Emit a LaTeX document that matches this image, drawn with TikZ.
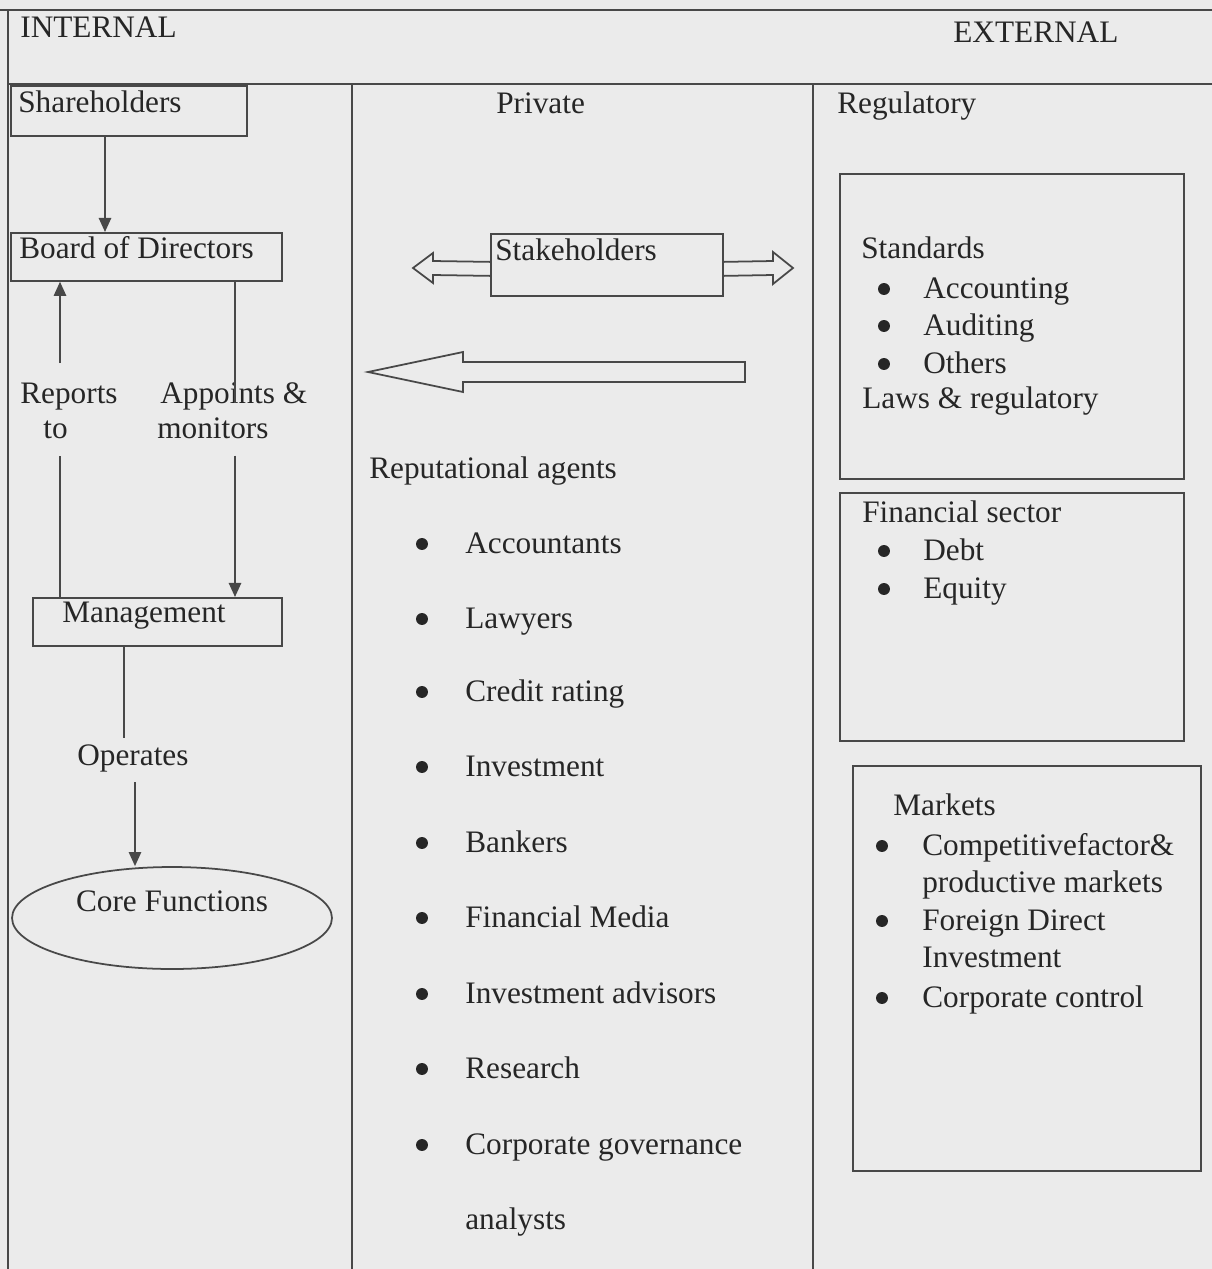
\documentclass[tikz,border=0pt]{standalone}
\usepackage{fontspec}
\setmainfont{Liberation Serif}
\usetikzlibrary{arrows.meta,shapes.geometric,calc}
\definecolor{bg}{HTML}{EBEBEB}
\definecolor{ln}{HTML}{484848}
\definecolor{tx}{HTML}{262626}
\begin{document}
\begin{tikzpicture}[x=0.02cm,y=-0.02cm,
  every node/.style={font=\fontsize{17.8}{21}\selectfont, text=tx, inner sep=0pt},
  lbl/.style={anchor=base west},
  frame/.style={draw=ln, line width=1.1pt},
  box/.style={draw=ln, line width=1pt, anchor=north west},
  conn/.style={draw=ln, line width=1pt},
  arr/.style={conn, -{Triangle[length=8pt,width=7pt]}},
  hollow/.style={draw=ln, line width=1pt, line join=miter},
  bul/.style={fill=tx}
]
\fill[bg] (0,0) rectangle (1212,1269);
\useasboundingbox (0,0) rectangle (1212,1269);

% frame
\draw[frame] (0,10) -- (1212,10);
\draw[frame] (8,84) -- (1212,84);
\draw[frame] (8,10) -- (8,1269);
\draw[frame] (352,84) -- (352,1269);
\draw[frame] (813,84) -- (813,1269);

% headers
\node[lbl] (int) at (20,37) {INTERNAL};
\node[lbl] (ext) at (953,42) {EXTERNAL};
\node[lbl] (priv) at (496,113) {Private};
\node[lbl] (regu) at (837,113) {Regulatory};

% internal column
\node[box, minimum width=4.72cm, minimum height=1.0cm] (sh) at (10,85) {};
\node[lbl] (sh-t) at (18,112) {Shareholders};
\node[box, minimum width=5.42cm, minimum height=0.96cm] (bd) at (10,232) {};
\node[lbl] (bd-t) at (19,258) {Board of Directors};
\node[box, minimum width=4.98cm, minimum height=0.96cm] (mg) at (32,597) {};
\node[lbl] (mg-t) at (62,622) {Management};
\node[ellipse, draw=ln, line width=1pt, minimum width=6.4cm, minimum height=2.04cm,
      text height=12pt, text depth=19pt] (core) at (172,918) {Core Functions};

\node[lbl] (rep-a) at (20,403) {Reports};
\node[lbl] (rep-b) at (43,438) {to};
\node[lbl] (app-a) at (160,403) {Appoints \&};
\node[lbl] (app-b) at (157,438) {monitors};
\node[lbl] (op) at (77,765) {Operates};

\coordinate (c1) at (105,0);
\coordinate (c2) at (60,0);
\coordinate (c3) at (235,0);
\coordinate (c4) at (124,0);
\coordinate (c5) at (135,0);

\draw[arr] (sh.south -| c1) -- (bd.north -| c1);
\draw[arr] ($(rep-a.north -| c2)+(0,-19)$) -- (bd.south -| c2);
\draw[conn] (mg.north -| c2) -- ($(rep-b.south -| c2)+(0,17)$);
\draw[conn] (bd.south -| c3) -- (app-a.base -| c3);
\draw[arr] ($(app-b.south -| c3)+(0,17)$) -- (mg.north -| c3);
\draw[conn] (mg.south -| c4) -- ($(op.north -| c4)+(0,-6)$);
\draw[arr] ($(op.south -| c5)+(0,10)$) -- (core.north -| c5);

% private column
\node[box, minimum width=4.64cm, minimum height=1.24cm] (st) at (490,233) {};
\node[lbl] (st-t) at (495,260) {Stakeholders};
\draw[hollow] ($(st.west)+(0,-3)$) -- (433,261) -- (433,253) -- (413,268) -- (433,283) -- (433,275) -- ($(st.west)+(0,11)$);
\draw[hollow] ($(st.east)+(0,-3)$) -- (773,261) -- (773,252) -- (793,268) -- (773,284) -- (773,275) -- ($(st.east)+(0,11)$);
\draw[hollow] (745,362) -- (463,362) -- (463,352) -- (368,372) -- (463,392) -- (463,382) -- (745,382) -- cycle;

\node[lbl] (rep) at (369,478) {Reputational agents};
\foreach \t/\b/\n in {Accountants/553/p1, Lawyers/628/p2, Credit rating/701/p3,
  Investment/776/p4, Bankers/852/p5, Financial Media/927/p6,
  Investment advisors/1003/p7, Research/1078/p8, Corporate governance/1154/p9}{
  \fill[bul] (422,\b-9) circle[radius=3.4pt];
  \node[lbl] (\n) at (465,\b) {\t};
}
\node[lbl] (p10) at (465,1229) {analysts};

% regulatory column
\node[box, minimum width=6.88cm, minimum height=6.10cm] (r1) at (839,173) {};
\node[lbl] (std) at (861,258) {Standards};
\foreach \t/\b/\n in {Accounting/298/s1, Auditing/335/s2, Others/373/s3}{
  \fill[bul] (884,\b-9) circle[radius=3.4pt];
  \node[lbl] (\n) at (923,\b) {\t};
}
\node[lbl] (laws) at (862,408) {Laws \& regulatory};

\node[box, minimum width=6.88cm, minimum height=4.96cm] (r2) at (839,492) {};
\node[lbl] (fin) at (862,522) {Financial sector};
\foreach \t/\b/\n in {Debt/560/f1, Equity/598/f2}{
  \fill[bul] (884,\b-9) circle[radius=3.4pt];
  \node[lbl] (\n) at (923,\b) {\t};
}

\node[box, minimum width=6.96cm, minimum height=8.10cm] (mk) at (852,765) {};
\node[lbl] (mkt) at (893,815) {Markets};
\foreach \b in {855,930,1007}{ \fill[bul] (882,\b-9) circle[radius=3.4pt]; }
\node[lbl] (m1) at (922,855) {Competitivefactor\&};
\node[lbl] (m2) at (922,892) {productive markets};
\node[lbl] (m3) at (922,930) {Foreign Direct};
\node[lbl] (m4) at (922,967) {Investment};
\node[lbl] (m5) at (922,1007) {Corporate control};
\end{tikzpicture}
\end{document}
